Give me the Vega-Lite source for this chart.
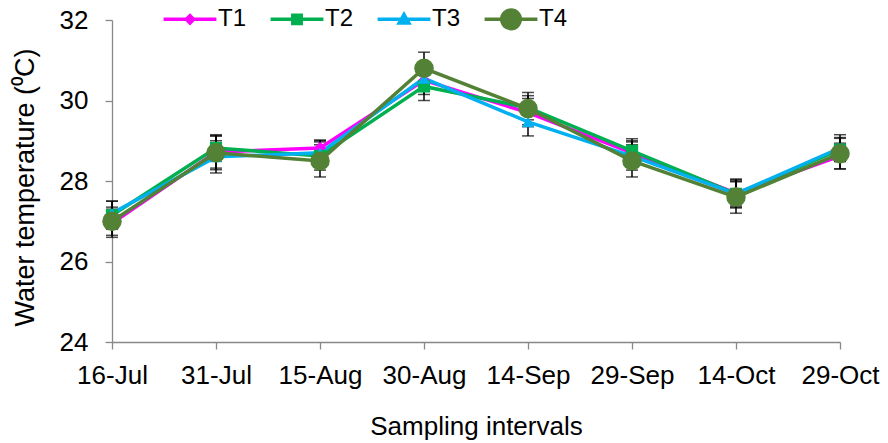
{
  "$schema": "https://vega.github.io/schema/vega-lite/v6.json",
  "width": 728,
  "height": 322,
  "autosize": "none",
  "padding": {"left": 112, "top": 20, "right": 48, "bottom": 101},
  "background": "white",
  "config": {
    "font": "Liberation Sans",
    "view": {"stroke": null},
    "axis": {
      "labelFont": "Liberation Sans",
      "labelFontSize": 26,
      "labelColor": "black",
      "titleFont": "Liberation Sans",
      "titleFontSize": 26,
      "titleFontWeight": "normal",
      "titleColor": "black",
      "domainColor": "#888888",
      "domainWidth": 1.3,
      "tickColor": "#888888",
      "tickWidth": 1.3,
      "tickSize": 7,
      "grid": false
    },
    "legend": {
      "title": null, "orient": "none", "legendX": 66, "legendY": -13, "direction": "horizontal",
      "labelFontSize": 24, "labelFont": "Liberation Sans", "labelColor": "black",
      "symbolSize": 144, "labelOffset": 16, "columnPadding": 16, "padding": 0,
      "symbolStrokeWidth": 3.5
    }
  },
  "data": {
    "values": [
      {"date": "16-Jul", "series": "T1", "value": 26.95, "err": 0.35},
      {"date": "16-Jul", "series": "T2", "value": 27.15, "err": 0.35},
      {"date": "16-Jul", "series": "T3", "value": 27.2, "err": 0.3},
      {"date": "16-Jul", "series": "T4", "value": 27.0, "err": 0.35},
      {"date": "31-Jul", "series": "T1", "value": 28.72, "err": 0.4},
      {"date": "31-Jul", "series": "T2", "value": 28.82, "err": 0.33},
      {"date": "31-Jul", "series": "T3", "value": 28.6, "err": 0.4},
      {"date": "31-Jul", "series": "T4", "value": 28.7, "err": 0.42},
      {"date": "15-Aug", "series": "T1", "value": 28.82, "err": 0.2},
      {"date": "15-Aug", "series": "T2", "value": 28.62, "err": 0.35},
      {"date": "15-Aug", "series": "T3", "value": 28.7, "err": 0.3},
      {"date": "15-Aug", "series": "T4", "value": 28.5, "err": 0.4},
      {"date": "30-Aug", "series": "T1", "value": 30.5, "err": 0.35},
      {"date": "30-Aug", "series": "T2", "value": 30.35, "err": 0.35},
      {"date": "30-Aug", "series": "T3", "value": 30.55, "err": 0.3},
      {"date": "30-Aug", "series": "T4", "value": 30.8, "err": 0.4},
      {"date": "14-Sep", "series": "T1", "value": 29.7, "err": 0.35},
      {"date": "14-Sep", "series": "T2", "value": 29.82, "err": 0.3},
      {"date": "14-Sep", "series": "T3", "value": 29.47, "err": 0.35},
      {"date": "14-Sep", "series": "T4", "value": 29.8, "err": 0.4},
      {"date": "29-Sep", "series": "T1", "value": 28.7, "err": 0.3},
      {"date": "29-Sep", "series": "T2", "value": 28.75, "err": 0.3},
      {"date": "29-Sep", "series": "T3", "value": 28.62, "err": 0.35},
      {"date": "29-Sep", "series": "T4", "value": 28.5, "err": 0.4},
      {"date": "14-Oct", "series": "T1", "value": 27.7, "err": 0.35},
      {"date": "14-Oct", "series": "T2", "value": 27.68, "err": 0.35},
      {"date": "14-Oct", "series": "T3", "value": 27.68, "err": 0.3},
      {"date": "14-Oct", "series": "T4", "value": 27.6, "err": 0.4},
      {"date": "29-Oct", "series": "T1", "value": 28.62, "err": 0.32},
      {"date": "29-Oct", "series": "T2", "value": 28.78, "err": 0.3},
      {"date": "29-Oct", "series": "T3", "value": 28.82, "err": 0.33},
      {"date": "29-Oct", "series": "T4", "value": 28.68, "err": 0.38}
    ]
  },
  "encoding": {
    "x": {
      "field": "date",
      "type": "ordinal",
      "sort": null,
      "scale": {"type": "point", "padding": 0},
      "axis": {"title": "Sampling intervals", "labelAngle": 0, "labelPadding": 13, "titlePadding": 25}
    }
  },
  "layer": [
    {
      "mark": {"type": "errorbar", "ticks": true, "size": 12, "thickness": 1.5, "color": "black"},
      "encoding": {
        "y": {"field": "value", "type": "quantitative", "scale": {"domain": [24, 32]}, "title": "Water temperature (⁰C)"},
        "yError": {"field": "err"}
      }
    },
    {
      "mark": {"type": "line", "strokeWidth": 3.5},
      "encoding": {
        "y": {"field": "value", "type": "quantitative", "scale": {"domain": [24, 32]}, "title": "Water temperature (⁰C)",
          "axis": {"values": [24, 26, 28, 30, 32], "labelPadding": 17, "titlePadding": 20, "titleFontSize": 27, "titleY": 167}},
        "color": {"field": "series", "type": "nominal",
          "scale": {"domain": ["T1", "T2", "T3", "T4"], "range": ["#FF00FF", "#00B050", "#00B0F0", "#538135"]},
          "legend": {
            "encode": {"symbols": {"update": {
              "shape": {"signal": "datum.value==='T1' ? 'M0,-1.55M0,1.55M-4.4,0H4.4M0,-0.6L0.6,0L0,0.6L-0.6,0Z' : datum.value==='T2' ? 'M0,-1.55M0,1.55M-4.4,0H4.4M-0.7,-0.7H0.7V0.7H-0.7Z' : datum.value==='T3' ? 'M0,-1.55M0,1.55M-4.4,0H4.4M0,-0.8L0.8,0.6H-0.8Z' : 'M-4.4,0H4.4M-1.55,0A1.55,1.55,0,1,0,1.55,0A1.55,1.55,0,1,0,-1.55,0Z'"},
              "fill": {"signal": "scale('color', datum.value)"},
              "size": {"value": 144},
              "strokeWidth": {"value": 3.5},
              "opacity": {"value": 1},
              "fillOpacity": {"value": 1},
              "strokeOpacity": {"value": 1}
            }}}
          }}
      }
    },
    {
      "mark": {"type": "point", "filled": true, "opacity": 1},
      "encoding": {
        "y": {"field": "value", "type": "quantitative", "scale": {"domain": [24, 32]}, "title": "Water temperature (⁰C)"},
        "fill": {"condition": [
          {"test": "datum.series === 'T1'", "value": "#FF00FF"},
          {"test": "datum.series === 'T2'", "value": "#00B050"},
          {"test": "datum.series === 'T3'", "value": "#00B0F0"}
        ], "value": "#538135"},
        "shape": {"condition": [
          {"test": "datum.series === 'T1'", "value": "diamond"},
          {"test": "datum.series === 'T2'", "value": "square"},
          {"test": "datum.series === 'T3'", "value": "triangle-up"}
        ], "value": "circle"},
        "size": {"condition": {"test": "datum.series === 'T4'", "value": 380}, "value": 150}
      }
    }
  ]
}
